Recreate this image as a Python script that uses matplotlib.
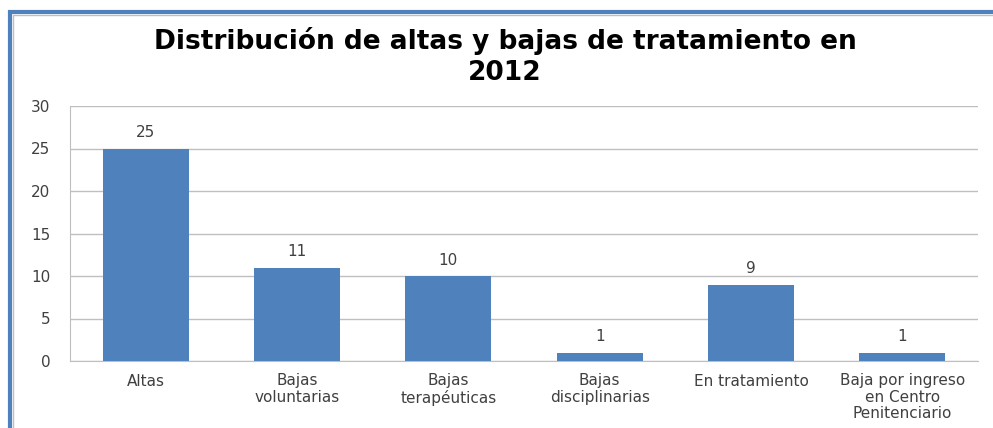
import numpy as np
import matplotlib.pyplot as plt
from matplotlib.patches import Rectangle

categorias = ["Altas", "Bajas\nvoluntarias", "Bajas\nterapéuticas", "Bajas\ndisciplinarias",
              "En tratamiento", "Baja por ingreso\nen Centro\nPenitenciario"]
valores = [25, 11, 10, 1, 9, 1]
yticks = [0, 5, 10, 15, 20, 25, 30]

W, H = 993, 428
fig = plt.figure(figsize=(W / 100, H / 100), dpi=100)
ax = fig.add_axes([70 / W, 1 - 361 / H, 908 / W, 255 / H])

x = np.arange(len(valores))
ax.bar(x, valores, width=0.57, color="#4F81BD", zorder=3)
for xi, v in zip(x, valores):
    ax.annotate(str(v), (xi, v), xytext=(0, 6), textcoords="offset points",
                ha="center", va="bottom", fontsize=11, color="#404040")

ax.set_xlim(-0.5, len(valores) - 0.5)
ax.set_ylim(0, 30)
ax.set_yticks(yticks)
ax.yaxis.grid(True, color="#BFBFBF", linewidth=1, zorder=0)
ax.set_xticks(x)
ax.set_xticklabels(categorias, fontsize=11, color="#404040", linespacing=1.12)
ax.tick_params(axis="y", length=0, pad=14, labelsize=11, labelcolor="#404040")
ax.tick_params(axis="x", length=0, pad=9)
for s in ["top", "right"]:
    ax.spines[s].set_visible(False)
for s in ["left", "bottom"]:
    ax.spines[s].set_color("#BFBFBF")

fig.text(505 / W, 1 - 57 / H, "Distribución de altas y bajas de tratamiento en\n2012",
         ha="center", va="center", fontsize=19, fontweight="bold", linespacing=1.25)

# marco azul del gráfico
fig.patches.append(Rectangle((9.5 / W, -0.1), 1.2, 1 - 11.5 / H + 0.1, transform=fig.transFigure,
                             fill=False, edgecolor="#4F81BD", linewidth=3))
fig.patches.append(Rectangle((12.5 / W, -0.1), 1.2, 1 - 14.5 / H + 0.1, transform=fig.transFigure,
                             fill=False, edgecolor="#BFBFBF", linewidth=1))

fig.savefig("out.png", dpi=100)
